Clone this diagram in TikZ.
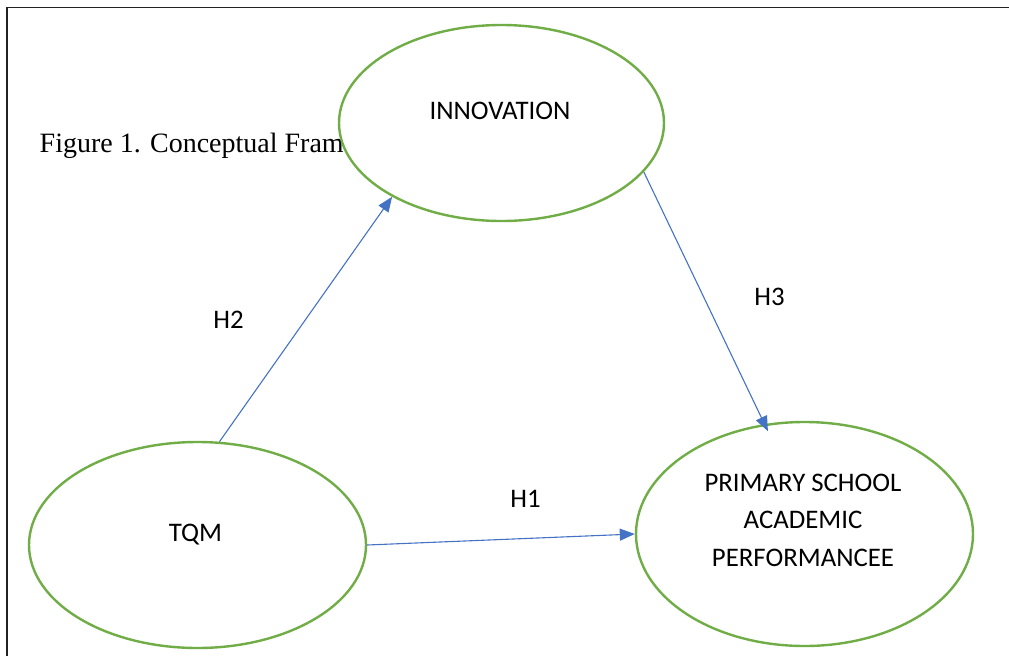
\documentclass[tikz,border=0pt]{standalone}
\usepackage{fontspec}
\setmainfont{Carlito}
\newfontfamily\capfont{Liberation Serif}
\usetikzlibrary{shapes.geometric,arrows.meta}
\definecolor{ovalgreen}{RGB}{112,173,71}
\definecolor{arrowblue}{RGB}{68,114,196}
\definecolor{framegray}{RGB}{34,34,34}
\tikzset{
  oval/.style={ellipse, draw=ovalgreen, line width=2.4pt, fill=white, inner sep=0pt},
  lbl/.style={anchor=base, inner sep=0pt, font=\fontsize{26.8}{37.5}\selectfont, text=black},
  link/.style={draw=arrowblue, line width=1.1pt, -{Triangle[length=15pt,width=12pt]}}
}
\begin{document}
\begin{tikzpicture}[x=1pt,y=-1pt]
\useasboundingbox (0,0) rectangle (1009,656);
\draw[framegray, line width=1.4pt] (7,656) -- (7,7.5) -- (1009,7.5);
\node[anchor=base west, inner sep=0pt, font=\capfont\fontsize{28}{32}\selectfont] (cap) at (39.5,152) {Figure 1. Conceptual Fram};
\node[oval, minimum width=325pt, minimum height=196pt] (inno) at (501.5,123) {};
\node[oval, minimum width=337pt, minimum height=206pt] (tqm) at (197.5,545) {};
\node[oval, minimum width=337pt, minimum height=224pt] (prim) at (804.5,534) {};
\node[lbl] (innotxt) at (500,119) {INNOVATION};
\node[lbl] (tqmtxt) at (195.5,541) {TQM};
\node[lbl, align=center] (primtxt) at (803,566) {PRIMARY SCHOOL\\ACADEMIC\\PERFORMANCEE};
\node[lbl] (h2) at (228.5,328) {H2};
\node[lbl] (h3) at (769.5,305) {H3};
\node[lbl] (h1) at (525.5,507) {H1};
\draw[link] (tqm.78.7) -- (inno.214.6);
\draw[link, shorten >=-8pt] (inno.341.4) -- (prim.110.9);
\draw[link] (tqm.-0.4) -- (prim.180.3);
\end{tikzpicture}
\end{document}
